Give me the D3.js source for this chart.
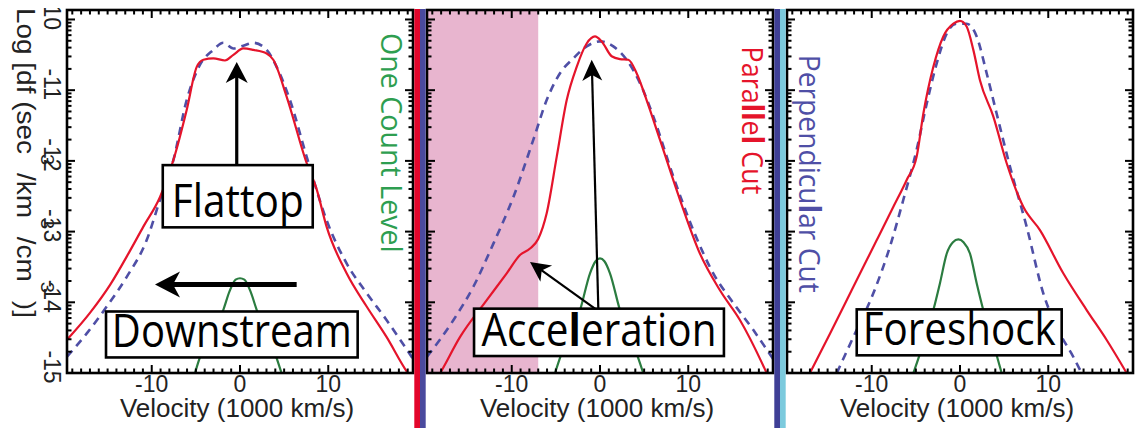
<!DOCTYPE html>
<html>
<head>
<meta charset="utf-8">
<script src="https://cdn.jsdelivr.net/npm/d3@7"></script>
<style>
  html, body { margin: 0; padding: 0; background: #fff; }
  svg { display: block; }
</style>
</head>
<body>
<svg id="chart" width="1141" height="428"></svg>
<script>
// ---- axis ranges and tick labels ----
const velocityDomain = [-19.6, 19.6];          // 1000 km/s
const logFDomain = [-15, -9.866];              // log10 f
const xTickValues = [-10, 0, 10];
const xTickLabels = ["-10", "0", "10"];
const yTickValues = [-15, -14, -13, -12, -11, -10];
const yTickLabels = ["-15", "-14", "-13", "-12", "-11", "-10"];
const panelNames = ["Downstream", "Acceleration", "Foreshock"];

// ---- distribution cuts: [velocity, log f] ----
const downstreamParallel = [[-19.6,-14.53],[-17.0,-14.15],[-14.7,-13.75],[-12.5,-13.28],[-10.95,-12.93],[-9.06,-12.51],[-7.55,-11.99],[-6.04,-11.28],[-4.9,-10.67],[-4.15,-10.57],[-3.02,-10.55],[-1.7,-10.58],[-0.75,-10.50],[0.38,-10.41],[1.51,-10.43],[3.02,-10.48],[3.77,-10.57],[5.28,-11.09],[7.55,-12.03],[8.68,-12.4],[9.81,-12.93],[12.08,-13.59],[14.35,-14.06],[16.6,-14.49],[18.9,-14.98],[19.6,-15.1]];
const downstreamPerpendicular = [[-19.6,-14.77],[-17.36,-14.44],[-15.1,-14.06],[-12.83,-13.64],[-10.57,-13.12],[-9.06,-12.55],[-7.55,-11.99],[-6.04,-11.14],[-4.53,-10.64],[-3.02,-10.43],[-1.89,-10.33],[-0.75,-10.41],[0.38,-10.37],[1.51,-10.33],[3.02,-10.43],[4.15,-10.67],[5.66,-11.14],[7.55,-11.94],[9.81,-12.84],[12.08,-13.45],[14.35,-13.87],[16.6,-14.25],[19.6,-14.8]];
const downstreamOneCount = [[-5.1,-15],[-4.6,-14.8],[-3.3,-14.45],[-1.9,-14.11],[-1.2,-13.85],[-0.5,-13.68],[0,-13.66],[0.5,-13.68],[1.2,-13.85],[1.9,-14.11],[3.1,-14.45],[4.15,-14.79],[4.7,-15]];

const accelerationParallel = [[-19.6,-15.3],[-18.1,-15],[-15.85,-14.49],[-12.83,-13.97],[-10.57,-13.59],[-9.06,-13.33],[-7.93,-13.24],[-6.99,-13.1],[-6.04,-12.74],[-4.9,-11.94],[-3.77,-11.14],[-2.64,-10.67],[-1.51,-10.34],[-0.57,-10.24],[0.19,-10.31],[1.32,-10.52],[2.26,-10.56],[3.21,-10.57],[4.15,-10.76],[5.28,-11.14],[6.79,-11.70],[9.06,-12.55],[11.32,-13.31],[13.59,-13.83],[15.85,-14.25],[18.88,-15],[19.6,-15.2]];
const accelerationPerpendicular = [[-19.6,-14.77],[-16.6,-14.25],[-14.35,-13.78],[-12.08,-13.17],[-9.81,-12.51],[-7.55,-11.70],[-6.04,-11.14],[-4.53,-10.76],[-3.02,-10.55],[-1.51,-10.38],[0,-10.31],[1.51,-10.38],[3.02,-10.57],[4.53,-10.9],[6.04,-11.37],[8.3,-12.22],[10.57,-12.98],[12.83,-13.59],[15.1,-14.01],[17.36,-14.39],[19.6,-14.8]];
const accelerationOneCount = [[-5.1,-15],[-4.0,-14.6],[-2.26,-14.11],[-1.13,-13.59],[-0.5,-13.42],[0,-13.38],[0.5,-13.42],[1.13,-13.59],[2.26,-14.11],[3.8,-14.6],[4.9,-15]];
const acceleratedBeamRange = [-19.6, -7.0];

const foreshockParallel = [[-17,-15],[-14.72,-14.44],[-12.08,-13.78],[-9.43,-13.12],[-7.55,-12.65],[-6.04,-12.27],[-4.91,-11.94],[-4.15,-11.33],[-3.02,-10.67],[-1.89,-10.24],[-0.75,-10.06],[0,-10.02],[0.75,-10.1],[1.51,-10.43],[2.26,-10.86],[3.77,-11.37],[5.28,-12.03],[7.17,-12.65],[9.06,-12.98],[11.7,-13.59],[14.35,-14.11],[16.6,-14.53],[18.88,-15]];
const foreshockPerpendicular = [[-13.96,-15],[-12.08,-14.49],[-9.81,-13.87],[-7.93,-13.21],[-6.42,-12.55],[-4.91,-11.84],[-3.77,-11.19],[-2.64,-10.62],[-1.51,-10.2],[-0.38,-10.06],[0.75,-10.06],[1.89,-10.24],[3.02,-10.76],[4.15,-11.33],[5.66,-12.08],[7.55,-12.93],[9.43,-13.87],[11.32,-14.44],[12.83,-14.77],[13.77,-15]];
const foreshockOneCount = [[-5.28,-15],[-4.15,-14.58],[-3.02,-14.11],[-2.27,-13.73],[-1.5,-13.31],[-0.8,-13.15],[-0.19,-13.11],[0.4,-13.15],[1.13,-13.31],[1.89,-13.73],[2.64,-14.11],[3.77,-14.58],[4.72,-15]];

// ---- colours ----
const RED = "#e5142b", BLUE = "#4f4fa6", GREEN = "#2b7c40", GREEN_TEXT = "#2e9e50";
const PINK = "#e8b5cf";

// ---- layout ----
const panelLeft = [67, 427, 787];
const panelWidth = 346;
const plotTop = 10, plotBottom = 373;

const svg = d3.select("#chart");
const defs = svg.append("defs");

const y = d3.scaleLinear().domain(logFDomain).range([plotBottom, plotTop]);

// panel table built from the arrays above
const panels = [
  { name: panelNames[0], par: downstreamParallel, perp: downstreamPerpendicular, one: downstreamOneCount },
  { name: panelNames[1], par: accelerationParallel, perp: accelerationPerpendicular, one: accelerationOneCount, beam: acceleratedBeamRange },
  { name: panelNames[2], par: foreshockParallel, perp: foreshockPerpendicular, one: foreshockOneCount }
];

// annotation placement in data units (velocity, log f)
const boxes = [
  [{ text: "Downstream", x0: -15.18, x1: 13.33, y0: -14.13, y1: -14.78, len: 240 },
   { text: "Flattop", x0: -8.75, x1: 8.24, y0: -12.06, y1: -12.94, len: 132 }],
  [{ text: "Acceleration", x0: -14.27, x1: 14.04, y0: -14.09, y1: -14.76, len: 235, bold: [4] }],
  [{ text: "Foreshock", x0: -11.7, x1: 11.52, y0: -14.1, y1: -14.75, len: 193 }]
];
const arrows = [
  [{ from: [-0.37, -12.06], to: [-0.37, -10.6], w: 3.2, hl: 21, hw: 11 },
   { from: [6.42, -13.75], to: [-9.63, -13.75], w: 5, hl: 25, hw: 13 }],
  [{ from: [-0.19, -14.09], to: [-0.94, -10.57], w: 2.2, hl: 21, hw: 10 },
   { from: [-0.57, -14.09], to: [-7.93, -13.43], w: 2.2, hl: 20, hw: 10 }],
  []
];
const sideLabels = [
  { text: "One Count Level", color: GREEN_TEXT, x: 15.97, y: -10.19, len: 220, bold: [] },
  { text: "Parallel Cut", color: RED, x: 16.14, y: -10.38, len: 148, bold: [4, 5, 7] },
  { text: "Perpendicular Cut", color: BLUE, x: -18.23, y: -10.5, len: 238, bold: [10] }
];

const BOX_FONT = "'Open Sans', 'Noto Sans', sans-serif";
const AXIS_FONT = "'Liberation Sans', Arial, sans-serif";

// Appends characters as tspans, some of them heavier
function fillChars(textSel, str, boldIdx) {
  if (!boldIdx || !boldIdx.length) { textSel.text(str); return; }
  let run = "";
  const flush = () => { if (run) { textSel.append("tspan").text(run); run = ""; } };
  [...str].forEach((c, i) => {
    if (boldIdx.includes(i)) { flush(); textSel.append("tspan").attr("font-weight", "bold").text(c); }
    else run += c;
  });
  flush();
}

// Scales a text along its reading direction so it spans `len` pixels
function fitText(t, tx, ty, rot, len) {
  const natural = t.node().getComputedTextLength();
  const k = len / natural;
  t.attr("transform", `translate(${tx},${ty})${rot ? " rotate(90)" : ""} scale(${k},1)`);
}

function arrowPath(x1, y1, x2, y2, hl, hw) {
  const dx = x2 - x1, dy = y2 - y1, L = Math.hypot(dx, dy);
  const ux = dx / L, uy = dy / L, nx = -uy, ny = ux;
  const bx = x2 - ux * hl, by = y2 - uy * hl;
  const nxp = x2 - ux * hl * 0.72, nyp = y2 - uy * hl * 0.72;
  return `M${x2},${y2}L${bx + nx * hw},${by + ny * hw}L${nxp},${nyp}L${bx - nx * hw},${by - ny * hw}Z`;
}

panels.forEach((p, i) => {
  const left = panelLeft[i];
  const x = d3.scaleLinear().domain(velocityDomain).range([left, left + panelWidth]);
  const g = svg.append("g").attr("class", "panel-" + p.name.toLowerCase());

  const clipId = "clip-" + i;
  defs.append("clipPath").attr("id", clipId)
    .append("rect").attr("x", left).attr("y", plotTop)
    .attr("width", panelWidth).attr("height", plotBottom - plotTop);

  const plot = g.append("g").attr("clip-path", `url(#${clipId})`);

  if (p.beam) {
    plot.append("rect")
      .attr("x", x(p.beam[0])).attr("y", plotTop)
      .attr("width", x(p.beam[1]) - x(p.beam[0]))
      .attr("height", plotBottom - plotTop)
      .attr("fill", PINK);
  }

  const line = d3.line().x(d => x(d[0])).y(d => y(d[1])).curve(d3.curveMonotoneX);

  plot.append("path").datum(p.one).attr("d", line)
    .attr("fill", "none").attr("stroke", GREEN).attr("stroke-width", 2.2);
  plot.append("path").datum(p.perp).attr("d", line)
    .attr("fill", "none").attr("stroke", BLUE).attr("stroke-width", 2.6)
    .attr("stroke-dasharray", "8,6");
  plot.append("path").datum(p.par).attr("d", line)
    .attr("fill", "none").attr("stroke", RED).attr("stroke-width", 2.2);

  // side label, rotated to read downward
  const sl = sideLabels[i];
  const st = g.append("text").attr("fill", sl.color)
    .attr("font-family", BOX_FONT).attr("font-size", 30).attr("text-anchor", "start");
  fillChars(st, sl.text, sl.bold);
  fitText(st, x(sl.x), y(sl.y), true, sl.len);

  // labelled boxes
  boxes[i].forEach(b => {
    const bx0 = x(b.x0), bx1 = x(b.x1), by0 = y(b.y0), by1 = y(b.y1);
    g.append("rect").attr("x", bx0).attr("y", by0)
      .attr("width", bx1 - bx0).attr("height", by1 - by0)
      .attr("fill", "#fff").attr("stroke", "#000").attr("stroke-width", 2.6);
    const t = g.append("text").attr("font-family", BOX_FONT).attr("font-size", 45)
      .attr("text-anchor", "middle").attr("fill", "#000");
    fillChars(t, b.text, b.bold);
    fitText(t, (bx0 + bx1) / 2, by1 - 10.5, false, b.len);
  });

  // arrows
  arrows[i].forEach(a => {
    const x1 = x(a.from[0]), y1 = y(a.from[1]), x2 = x(a.to[0]), y2 = y(a.to[1]);
    const L = Math.hypot(x2 - x1, y2 - y1);
    const ex = x2 - (x2 - x1) / L * a.hl * 0.7, ey = y2 - (y2 - y1) / L * a.hl * 0.7;
    g.append("line").attr("x1", x1).attr("y1", y1).attr("x2", ex).attr("y2", ey)
      .attr("stroke", "#000").attr("stroke-width", a.w);
    g.append("path").attr("d", arrowPath(x1, y1, x2, y2, a.hl, a.hw)).attr("fill", "#000");
  });

  // ticks on all four sides, pointing inward
  const ticks = g.append("g").attr("stroke", "#000").attr("stroke-width", 2);
  const xMinor = d3.range(-19, 20, 1).filter(v => !xTickValues.includes(v));
  const xTicks = xMinor.map(v => [v, 4.5]).concat(xTickValues.map(v => [v, 8]));
  xTicks.forEach(([v, len]) => {
    ticks.append("line").attr("x1", x(v)).attr("x2", x(v))
      .attr("y1", plotBottom).attr("y2", plotBottom - len);
    ticks.append("line").attr("x1", x(v)).attr("x2", x(v))
      .attr("y1", plotTop).attr("y2", plotTop + len);
  });
  const yMinor = [];
  d3.range(-15, -10).forEach(d => d3.range(2, 10).forEach(k => yMinor.push(d + Math.log10(k))));
  const yTicks = yMinor.map(v => [v, 4.5]).concat(yTickValues.map(v => [v, 8]));
  yTicks.forEach(([v, len]) => {
    ticks.append("line").attr("x1", left).attr("x2", left + len)
      .attr("y1", y(v)).attr("y2", y(v));
    ticks.append("line").attr("x1", left + panelWidth).attr("x2", left + panelWidth - len)
      .attr("y1", y(v)).attr("y2", y(v));
  });

  g.append("rect").attr("x", left).attr("y", plotTop)
    .attr("width", panelWidth).attr("height", plotBottom - plotTop)
    .attr("fill", "none").attr("stroke", "#000").attr("stroke-width", 2.6);

  // x axis labels
  g.append("g").selectAll("text").data(xTickValues).join("text")
    .attr("x", d => x(d)).attr("y", 392)
    .attr("text-anchor", "middle").attr("font-family", AXIS_FONT)
    .attr("font-size", 23).attr("fill", "#222")
    .text((d, j) => xTickLabels[j]);
  g.append("text").attr("x", x(0) - 3).attr("y", 417)
    .attr("text-anchor", "middle").attr("font-family", AXIS_FONT)
    .attr("font-size", 26).attr("fill", "#222")
    .text("Velocity (1000 km/s)");
});

// coloured dividers between panels
const dividerColors = [["#e3062b", "#4a4a9e"], ["#3f3f96", "#7ccadd"]];
dividerColors.forEach((cols, j) => {
  const a = panelLeft[j] + panelWidth + 1.3, b = panelLeft[j + 1] - 1.3;
  const mid = (a + b) / 2;
  svg.append("rect").attr("x", a).attr("y", 9).attr("width", mid - a).attr("height", 428 - 9).attr("fill", cols[0]);
  svg.append("rect").attr("x", mid).attr("y", 9).attr("width", b - mid).attr("height", 428 - 9).attr("fill", cols[1]);
});

// left axis: rotated tick labels and title (clipped at the top edge)
defs.append("clipPath").attr("id", "clip-left")
  .append("rect").attr("x", 0).attr("y", 8).attr("width", 66).attr("height", 420);
const leftAxis = svg.append("g").attr("clip-path", "url(#clip-left)")
  .attr("font-family", AXIS_FONT).attr("fill", "#222");
yTickValues.forEach((v, j) => {
  leftAxis.append("text")
    .attr("transform", `translate(44,${y(v) - 6}) rotate(90)`)
    .attr("text-anchor", "middle").attr("font-size", 23)
    .text(yTickLabels[j]);
});
const title = leftAxis.append("text").attr("font-size", 25).attr("text-anchor", "start");
[["Log [df (sec", false], ["3", true], [" /km", false], ["3", true], [" /cm", false], ["3", true], [" )]", false]]
  .forEach(([s, sup], k) => {
    const ts = title.append("tspan").text(s);
    if (sup) ts.attr("font-size", 18).attr("dy", -24);
    else if (k > 0) ts.attr("dy", 24);
  });
fitText(title, 17, 8, true, 310);
</script>
</body>
</html>
